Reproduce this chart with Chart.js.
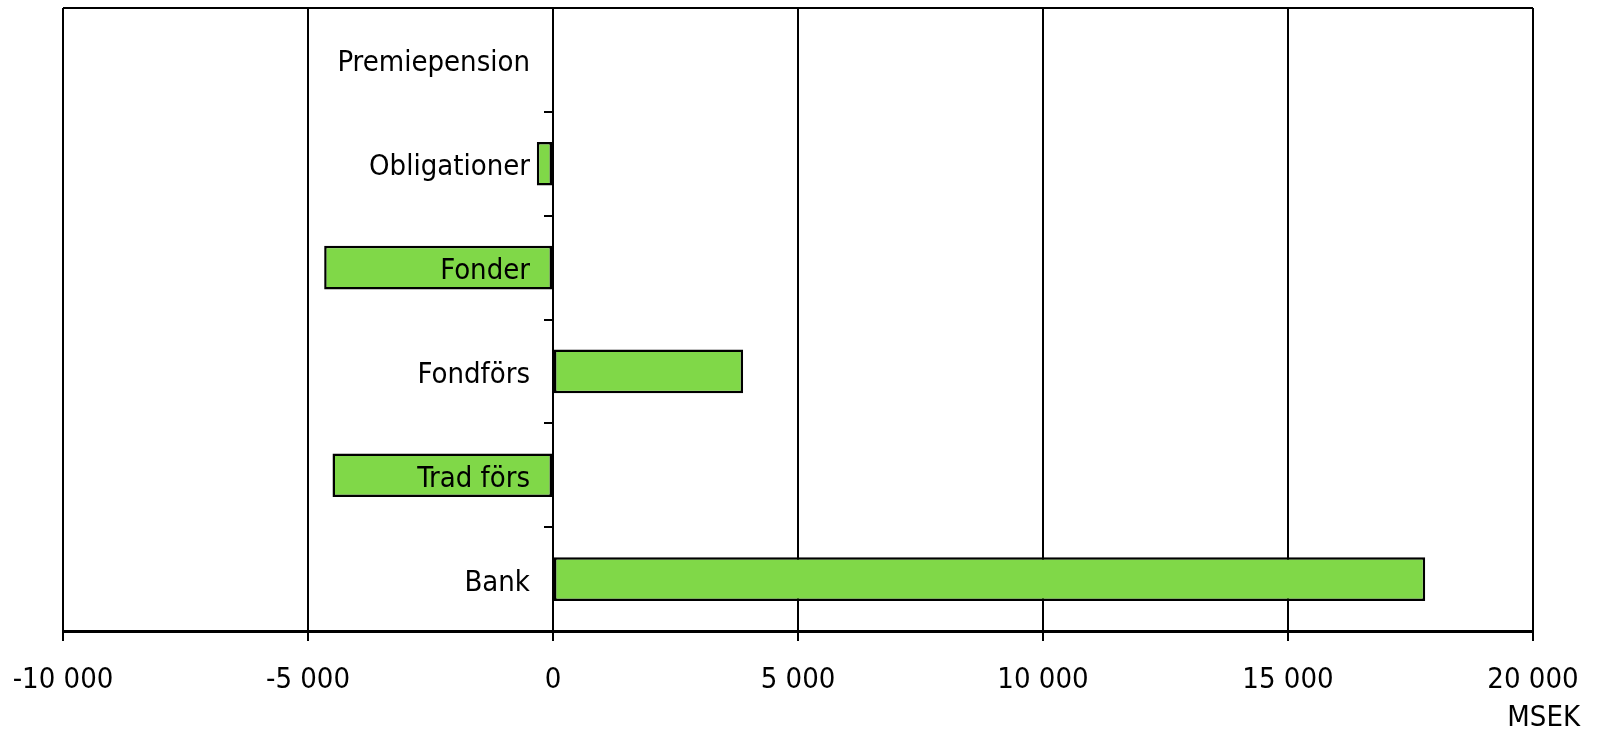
<!DOCTYPE html>
<html>
<head>
<meta charset="utf-8">
<script src="https://cdn.jsdelivr.net/npm/chart.js@4/dist/chart.umd.min.js"></script>
<style>
  html, body { margin: 0; padding: 0; background: #fff; }
  #wrap { width: 1600px; height: 736px; }
</style>
</head>
<body>
<div id="wrap"><canvas id="chart"></canvas></div>
<script>
const categories = ['Premiepension', 'Obligationer', 'Fonder', 'Fondförs', 'Trad förs', 'Bank'];
const values = [0, -330, -4670, 3880, -4500, 17800];
const xTicks = [-10000, -5000, 0, 5000, 10000, 15000, 20000];
const unitLabel = 'MSEK';

const FONT = "'Liberation Sans Narrow', 'DejaVu Sans Condensed', sans-serif";
const FONT_SIZE = 29;

const fmt = v => String(v).replace(/\B(?=(\d{3})+(?!\d))/g, ' ');

// scales should not push the plot area in; the layout padding decides it
const noPad = s => {
  s.paddingLeft = 0;
  s.paddingRight = 0;
  s.paddingTop = 0;
  s.paddingBottom = 0;
};

// top frame line + unit text under the axis
const framePlugin = {
  id: 'frame',
  afterDraw(chart) {
    const { ctx, chartArea } = chart;
    ctx.save();
    ctx.strokeStyle = '#000';
    ctx.lineWidth = 2;
    ctx.beginPath();
    ctx.moveTo(chartArea.left, chartArea.top);
    ctx.lineTo(chartArea.right, chartArea.top);
    ctx.stroke();
    ctx.fillStyle = '#000';
    ctx.font = FONT_SIZE + 'px ' + FONT;
    ctx.textAlign = 'right';
    ctx.textBaseline = 'middle';
    ctx.fillText(unitLabel, 1580, 718);
    ctx.restore();
  }
};

new Chart(document.getElementById('chart'), {
  type: 'bar',
  data: {
    labels: categories,
    datasets: [{
      data: values,
      backgroundColor: '#80d848',
      borderColor: '#000',
      borderWidth: 2.5,
      borderSkipped: false,
      barPercentage: 0.42,
      categoryPercentage: 1,
    }],
  },
  options: {
    indexAxis: 'y',
    responsive: true,
    maintainAspectRatio: false,
    animation: false,
    layout: { autoPadding: false, padding: { left: 63, right: 67, top: 8, bottom: 0 } },
    plugins: {
      legend: { display: false },
      tooltip: { enabled: false },
    },
    scales: {
      x: {
        min: -10000,
        max: 20000,
        afterFit: s => { s.height = 105; noPad(s); },
        afterBuildTicks: s => { s.ticks = xTicks.map(v => ({ value: v })); },
        grid: {
          color: '#000',
          lineWidth: 2,
          tickLength: 10,
        },
        border: { color: '#000', width: 3 },
        ticks: {
          color: '#000',
          padding: 22,
          maxRotation: 0,
          font: { family: FONT, size: FONT_SIZE },
          callback: v => fmt(v),
        },
      },
      // axis line at zero with the small tick marks
      y: {
        position: { x: 0 },
        afterFit: noPad,
        grid: {
          display: true,
          drawOnChartArea: false,
          color: '#000',
          lineWidth: 2,
          tickLength: 8,
          offset: true,
        },
        border: { color: '#000', width: 2 },
        ticks: { display: false },
      },
      // category names, a little left of the zero line, drawn over the bars
      yLabels: {
        axis: 'y',
        type: 'category',
        offset: true,
        position: { x: -470 },
        afterFit: noPad,
        grid: { display: false },
        border: { display: false },
        ticks: {
          z: 2,
          color: '#000',
          padding: 0,
          labelOffset: 4,
          font: { family: FONT, size: FONT_SIZE },
        },
      },
    },
  },
  plugins: [framePlugin],
});
</script>
</body>
</html>
